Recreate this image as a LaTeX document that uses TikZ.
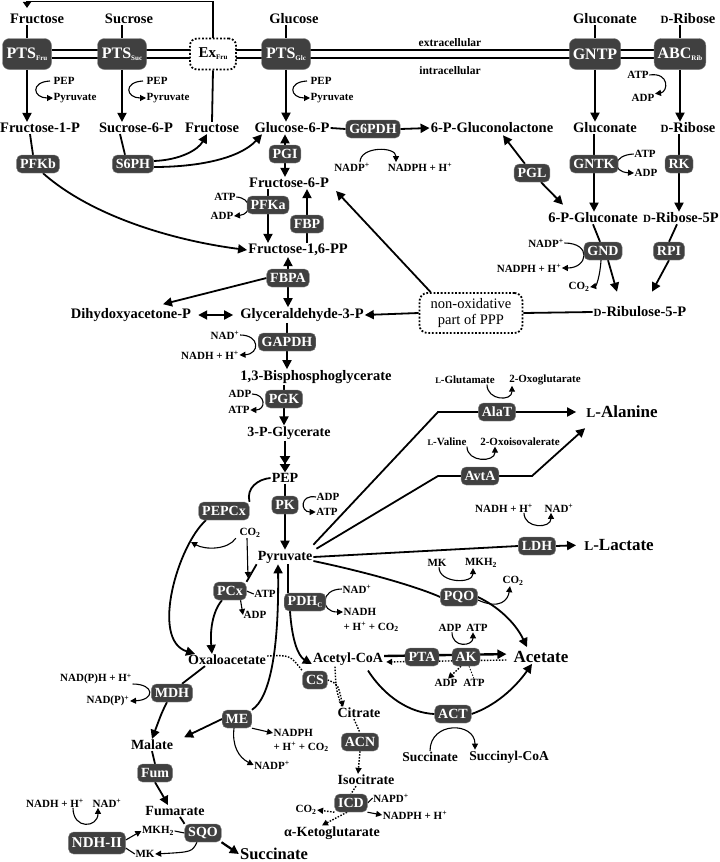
\documentclass[tikz,border=0pt]{standalone}
\usepackage{fontspec}
\setmainfont{Liberation Serif}
\usetikzlibrary{arrows.meta,backgrounds}
\definecolor{enzfill}{RGB}{64,64,64}
\newcommand{\enzsub}[1]{\raisebox{-0.3ex}{\fontsize{7}{7}\selectfont #1}}
\newcommand{\smc}[2]{{\fontsize{#1}{#1}\selectfont #2}}
\begin{document}
\begin{tikzpicture}[x=1pt,y=-1pt,
  met/.style={font=\bfseries\fontsize{14.5}{16}\selectfont,inner sep=1pt},
  metr/.style={font=\bfseries\fontsize{14}{16}\selectfont,inner sep=1pt},
  big/.style={font=\bfseries\fontsize{17}{19}\selectfont,inner sep=1pt},
  mets/.style={font=\bfseries\fontsize{13.5}{15}\selectfont,inner sep=1pt},
  cof/.style={font=\bfseries\fontsize{11}{12}\selectfont,inner sep=0.5pt},
  enz/.style={fill=enzfill,draw=gray,line width=0.4pt,rounded corners=5pt,text=white,
     font=\bfseries\fontsize{14}{14}\selectfont,minimum height=18pt,inner xsep=3.5pt,inner ysep=1pt},
  tbox/.style={enz,minimum width=49pt,minimum height=31pt,rounded corners=7pt,
     font=\bfseries\fontsize{16}{16}\selectfont},
  ln/.style={line width=1.8pt},
  arr/.style={line width=1.8pt,-{Triangle[length=9pt,width=9pt]}},
  darr/.style={line width=1.8pt,{Triangle[length=9pt,width=9pt]}-{Triangle[length=9pt,width=9pt]}},
  carr/.style={line width=1.1pt,-{Triangle[length=6pt,width=6pt]}},
  cln/.style={line width=1.1pt},
  dotln/.style={line width=1.4pt,dash pattern=on 1.5pt off 1.5pt},
  dotarr/.style={dotln,-{Triangle[length=6pt,width=6pt]}},
]
\useasboundingbox (0,0) rectangle (720,862);

% ---------- top row ----------
\node[met] (Fru) at (37,19) {Fructose};
\node[met] (Suc) at (129,19) {Sucrose};
\node[met] (Glc) at (294,19) {Glucose};
\node[met] (Gnt) at (605,19) {Gluconate};
\node[met] (Rib) at (688,19) {\smc{11}{D}-Ribose};

\node[tbox] (PTSfru) at (27,54) {PTS\enzsub{Fru}};
\node[tbox] (PTSsuc) at (122,54) {PTS\enzsub{Suc}};
\node[tbox,fill=white,text=black,draw=black,line width=1.8pt,dash pattern=on 1.8pt off 1.8pt,
      minimum width=46pt,font=\bfseries\fontsize{15}{15}\selectfont] (ExFru) at (213,54) {Ex\enzsub{Fru}};
\node[tbox] (PTSglc) at (286,54) {PTS\enzsub{Glc}};
\node[tbox] (GNTP) at (595,54) {GNTP};
\node[tbox] (ABC) at (680,54) {ABC\enzsub{Rib}};

\node[cof,font=\bfseries\fontsize{11.5}{12}\selectfont] (extra) at (450,43) {extracellular};
\node[cof,font=\bfseries\fontsize{11.5}{12}\selectfont] (intra) at (450,71) {intracellular};

\node[cof,anchor=west] (pep1) at (53,81) {PEP};
\node[cof,anchor=west] (pyr1) at (53,98) {Pyruvate};
\node[cof,anchor=west] (pep2) at (146,81) {PEP};
\node[cof,anchor=west] (pyr2) at (146,98) {Pyruvate};
\node[cof,anchor=west] (pep3) at (310,81) {PEP};
\node[cof,anchor=west] (pyr3) at (310,98) {Pyruvate};
\node[cof] (atpA) at (638,75) {ATP};
\node[cof] (adpA) at (643,98) {ADP};

% ---------- row 128 ----------
\node[met] (F1P) at (40,128) {Fructose-1-P};
\node[met] (S6P) at (136,128) {Sucrose-6-P};
\node[met] (FruI) at (212,128) {Fructose};
\node[met] (G6P) at (292,128) {Glucose-6-P};
\node[enz] (G6PDH) at (373,129) {G6PDH};
\node[met] (PGlac) at (492,128) {6-P-Gluconolactone};
\node[met] (Gnt2) at (605,128) {Gluconate};
\node[met] (Rib2) at (688,128) {\smc{11}{D}-Ribose};

\node[cof] (nadp1) at (352,167) {NADP\textsuperscript{+}};
\node[cof] (nadph1) at (420,167) {NADPH + H\textsuperscript{+}};

\node[enz] (PFKb) at (38,164) {PFKb};
\node[enz] (S6PH) at (133,164) {S6PH};
\node[enz] (PGI) at (285,154) {PGI};
\node[enz] (PGL) at (532,173) {PGL};
\node[enz] (GNTK) at (594,164) {GNTK};
\node[enz] (RK) at (679,164) {RK};
\node[cof] (atpG) at (645,154) {ATP};
\node[cof] (adpG) at (646,173) {ADP};

\node[met] (F6P) at (289,183) {Fructose-6-P};
\node[enz] (PFKa) at (268,205) {PFKa};
\node[cof] (atpP) at (225,197) {ATP};
\node[cof] (adpP) at (222,216) {ADP};
\node[enz] (FBP) at (307,224) {FBP};

\node[met] (PG6) at (593,218) {6-P-Gluconate};
\node[met] (R5P) at (681,218) {\smc{11}{D}-Ribose-5P};

\node[met] (F16P) at (298,250) {Fructose-1,6-PP};
\node[enz] (FBPA) at (288,278) {FBPA};

\node[enz] (GND) at (603,251) {GND};
\node[enz] (RPI) at (669,251) {RPI};
\node[cof] (nadpG) at (546,243) {NADP\textsuperscript{+}};
\node[cof] (nadphG) at (529,268) {NADPH + H\textsuperscript{+}};
\node[cof] (co2G) at (579,287) {CO\textsubscript{2}};

\node[draw,line width=1.8pt,dash pattern=on 1.8pt off 1.8pt,rounded corners=8pt,fill=white,
      align=center,font=\fontsize{14.5}{16}\selectfont,minimum width=103pt,minimum height=40pt,inner sep=1pt] (PPP) at (471,313) {non-oxidative\\part of PPP};
\node[met] (Ru5P) at (640,312) {\smc{11}{D}-Ribulose-5-P};

\node[met] (DHAP) at (131,315) {Dihydoxyacetone-P};
\node[met] (GAP) at (302,315) {Glyceraldehyde-3-P};
\node[enz] (GAPDH) at (287,342) {GAPDH};
\node[cof] (nad2) at (225,335) {NAD\textsuperscript{+}};
\node[cof] (nadh2) at (210,355) {NADH + H\textsuperscript{+}};
\node[met] (BPG) at (316,377) {1,3-Bisphosphoglycerate};
\node[enz] (PGK) at (284,399) {PGK};
\node[cof] (adp3) at (240,394) {ADP};
\node[cof] (atp3) at (239,410) {ATP};

\node[cof] (glu) at (465,380) {\smc{8.5}{L}-Glutamate};
\node[cof] (oxg) at (545,380) {2-Oxoglutarate};
\node[enz] (AlaT) at (497,412) {AlaT};
\node[big] (Ala) at (622,412) {\smc{13.5}{L}-Alanine};

\node[metr] (PG3) at (289,433) {3-P-Glycerate};
\node[cof] (val) at (447,442) {\smc{8.5}{L}-Valine};
\node[cof] (oiv) at (520,442) {2-Oxoisovalerate};
\node[enz] (AvtA) at (480,476) {AvtA};

\node[metr] (PEP) at (285,478) {PEP};
\node[enz] (PK) at (285,505) {PK};
\node[cof] (adp4) at (328,497) {ADP};
\node[cof] (atp4) at (327,512) {ATP};
\node[enz] (PEPCx) at (224,511) {PEPCx};
\node[cof] (nadhL) at (504,508) {NADH + H\textsuperscript{+}};
\node[cof] (nadL) at (559,508) {NAD\textsuperscript{+}};
\node[cof] (co2a) at (250,533) {CO\textsubscript{2}};
\node[enz] (LDH) at (537,546) {LDH};
\node[big] (Lac) at (619,545) {\smc{13.5}{L}-Lactate};
\node[metr] (Pyr) at (285,557) {Pyruvate};
\node[cof] (mkq) at (437,563) {MK};
\node[cof] (mkh2q) at (481,563) {MKH\textsubscript{2}};
\node[cof] (co2q) at (513,581) {CO\textsubscript{2}};

\node[enz] (PCx) at (230,591) {PCx};
\node[cof] (atp5) at (265,594) {ATP};
\node[cof] (adp5) at (255,615) {ADP};
\node[enz] (PDH) at (305,602) {PDH\enzsub{C}};
\node[cof] (nad6) at (357,589) {NAD\textsuperscript{+}};
\node[cof,anchor=west] (nadh6) at (343,612) {NADH};
\node[cof,anchor=west] (nadh6b) at (343,627) {+ H\textsuperscript{+} + CO\textsubscript{2}};
\node[enz] (PQO) at (459,597) {PQO};
\node[cof] (adpk) at (450,628) {ADP};
\node[cof] (atpk) at (477,628) {ATP};

\node[metr] (OAA) at (227,660) {Oxaloacetate};
\node[metr] (AcCoA) at (348,659) {Acetyl-CoA};
\node[enz] (PTA) at (422,657) {PTA};
\node[enz] (AK) at (466,657) {AK};
\node[big] (Acet) at (541,657) {Acetate};
\node[cof] (adpk2) at (446,683) {ADP};
\node[cof] (atpk2) at (474,683) {ATP};

\node[cof] (nadph7) at (96,679) {NAD(P)H + H\textsuperscript{+}};
\node[cof] (nadp7) at (108,701) {NAD(P)\textsuperscript{+}};
\node[enz] (CS) at (315,680) {CS};
\node[enz] (MDH) at (172,693) {MDH};
\node[metr] (Cit) at (359,713) {Citrate};
\node[enz] (ACT) at (453,714) {ACT};
\node[enz] (ME) at (237,719) {ME};
\node[cof,anchor=west] (nadphM) at (273,733) {NADPH};
\node[cof,anchor=west] (nadphMb) at (273,747) {+ H\textsuperscript{+} + CO\textsubscript{2}};
\node[metr] (Mal) at (152,745) {Malate};
\node[enz] (ACN) at (360,742) {ACN};
\node[mets] (succ2) at (430,757) {Succinate};
\node[mets] (sucCoA) at (509,757) {Succinyl-CoA};
\node[cof] (nadpM) at (272,765) {NADP\textsuperscript{+}};
\node[enz] (Fum) at (155,773) {Fum};
\node[metr] (Isoc) at (366,780) {Isocitrate};
\node[cof] (napd) at (391,798) {NAPD\textsuperscript{+}};
\node[enz] (ICD) at (351,803) {ICD};
\node[cof] (nadh9) at (55,803) {NADH + H\textsuperscript{+}};
\node[cof] (nad9) at (107,803) {NAD\textsuperscript{+}};
\node[cof] (co2i) at (306,810) {CO\textsubscript{2}};
\node[cof] (nadph10) at (415,815) {NADPH + H\textsuperscript{+}};
\node[metr] (Fumr) at (175,811) {Fumarate};
\node[metr] (AKG) at (332,833) {α-Ketoglutarate};
\node[cof] (mkh2s) at (158,831) {MKH\textsubscript{2}};
\node[enz] (SQO) at (203,833) {SQO};
\node[enz,minimum height=22pt,font=\bfseries\fontsize{15}{15}\selectfont] (NDH) at (97,843) {NDH-II};
\node[cof] (mk8) at (145,854) {MK};
\node[big,font=\bfseries\fontsize{16.5}{18}\selectfont] (Succ) at (274,854) {Succinate};

% ================= connectors =================
\begin{scope}[on background layer]
\coordinate (memA) at (0,50);
\coordinate (memB) at (0,58);
\draw[line width=1.4pt] (PTSfru.east |- memA) -- (ABC.west |- memA);
\draw[line width=1.4pt] (PTSfru.east |- memB) -- (ABC.west |- memB);

\coordinate (topy) at (0,1.5);
\draw[line width=1.8pt,-{Triangle[length=6pt,width=8pt]}] (ExFru.north) |- (PTSfru.north |- topy) -- ([yshift=5pt]PTSfru.north |- Fru.north);

\draw[ln] (PTSfru.north |- Fru.south) -- (PTSfru.north);
\draw[ln] (PTSsuc.north |- Suc.south) -- (PTSsuc.north);
\draw[ln] (PTSglc.north |- Glc.south) -- (PTSglc.north);
\draw[ln] (GNTP.north |- Gnt.south) -- (GNTP.north);
\draw[ln] (ABC.north |- Rib.south) -- (ABC.north);

\draw[arr] (PTSfru.south) -- (PTSfru.south |- F1P.north);
\draw[arr] (PTSsuc.south) -- (PTSsuc.south |- S6P.north);
\draw[arr] (PTSglc.south) -- (PTSglc.south |- G6P.north);
\draw[arr] (GNTP.south) -- (GNTP.south |- Gnt2.north);
\draw[arr] (ABC.south) -- (ABC.south |- Rib2.north);
\draw[ln] (ExFru.south) -- (FruI.north);

\draw[carr] ([xshift=-3pt]pep1.west) .. controls +(-20,1) and +(-20,0) .. (pyr1.west);
\draw[carr] ([xshift=-3pt]pep2.west) .. controls +(-20,1) and +(-20,0) .. (pyr2.west);
\draw[carr] ([xshift=-3pt]pep3.west) .. controls +(-20,1) and +(-20,0) .. (pyr3.west);
\draw[carr] (atpA.east) .. controls (670,72) and (668,92) .. (adpA.north east);

% G6PDH
\draw[ln] (G6P.east) -- (G6PDH.west);
\draw[arr] (G6PDH.east) -- (PGlac.west);
\draw[carr] ([xshift=8pt]nadp1.north) .. controls +(0,-16) and +(0,-16) .. ([xshift=-24pt]nadph1.north);
\draw[arr] (PGL) -- ([xshift=11pt,yshift=-1pt]PGlac.south);
\draw[arr] (PGL) -- ([xshift=-30pt,yshift=7pt]PG6.north);

% GNTK, RK
\draw[ln] (GNTK.north |- Gnt2.south) -- (GNTK.north);
\draw[arr] (GNTK.south) -- (GNTK.south |- PG6.north);
\draw[carr] (atpG.west) .. controls (612,155) and (612,172) .. (adpG.west);
\draw[ln] (RK.north |- Rib2.south) -- (RK.north);
\draw[arr] (RK.south) -- (RK.south |- R5P.north);

% PFKb, S6PH
\draw[ln] ([xshift=-10pt]F1P.south) -- ([xshift=-5pt]PFKb.north);
\draw[arr] ([xshift=5pt]PFKb.south) .. controls (90,215) and (170,240) .. (F16P.west);
\draw[ln] ([xshift=-16pt]S6P.south) -- ([xshift=-8pt]S6PH.north);
\draw[arr] ([yshift=3pt]S6PH.east) .. controls (180,160) and (198,150) .. ([xshift=-5pt]FruI.south);
\draw[arr] ([yshift=-3pt]S6PH.east) .. controls (200,167) and (240,158) .. ([xshift=-30pt]G6P.south);

% glycolysis upper
\draw[arr] (PGI.north) -- (PGI.north |- G6P.south);
\draw[arr] (PGI.south) -- (PGI.south |- F6P.north);
\draw[ln] (PFKa.north |- F6P.south) -- (PFKa.north);
\draw[arr] (PFKa.south) -- (PFKa.south |- F16P.north);
\draw[carr] (atpP.east) .. controls (252,198) and (252,214) .. (adpP.east);
\draw[ln] (FBP.south) -- (FBP.south |- F16P.north);
\draw[arr] (FBP.north) -- (FBP.north |- F6P.south);
\draw[arr] (FBPA.north) -- (FBPA.north |- F16P.south);
\draw[arr] (FBPA.south) -- (FBPA.south |- GAP.north);
\draw[arr] (FBPA.west) -- ([xshift=32pt,yshift=3pt]DHAP.north);
\draw[darr,shorten <=6pt,shorten >=6pt] (DHAP.east) -- (GAP.west);

% PPP
\draw[ln] (Ru5P.west) -- (PPP.east);
\draw[arr] (PPP.west) -- (GAP.east);
\draw[arr] ([xshift=12pt]PPP.north west) -- ([xshift=6pt,yshift=-8pt]F6P.east);
\draw[ln] (PG6.south) -- ([xshift=-3pt]GND.north);
\draw[arr] ([xshift=5pt]GND.south) -- ([xshift=-23pt,yshift=14pt]Ru5P.north);
\draw[carr] (nadpG.east) .. controls (592,243) and (588,268) .. (nadphG.east);
\draw[carr] ([xshift=-2pt]GND.south) .. controls (600,277) and (596,286) .. (co2G.east);
\draw[ln] ([xshift=-4pt]R5P.south) -- (RPI.north);
\draw[arr] (RPI.south) -- ([xshift=12pt,yshift=14pt]Ru5P.north);

% lower glycolysis
\draw[ln] (GAPDH.north |- GAP.south) -- (GAPDH.north);
\draw[arr] (GAPDH.south) -- (GAPDH.south |- BPG.north);
\draw[carr] (nad2.east) .. controls (260,335) and (260,354) .. (nadh2.east);
\draw[ln] (PGK.north |- BPG.south) -- (PGK.north);
\draw[arr] (PGK.south) -- (PGK.south |- PG3.north);
\draw[carr] (adp3.east) .. controls (266,394) and (266,410) .. (atp3.east);
\draw[line width=1.8pt,-{Triangle[length=8pt,width=10pt]Triangle[length=8pt,width=10pt]}] (PEP.north |- PG3.south) -- (PEP.north);
\draw[ln] (PEP.south) -- (PK.north);
\draw[arr] (PK.south) -- (PK.south |- Pyr.north);
\draw[carr] (adp4.west) .. controls (300,494) and (300,512) .. (atp4.west);

% PEPCx, PCx
\draw[ln] (PEP.west) .. controls (258,479) and (246,488) .. (PEPCx.north east);
\draw[arr] ([xshift=-18pt]PEPCx.south) .. controls (178,545) and (150,640) .. ([xshift=-32pt]OAA.north);
\coordinate (pepcxj) at (191,542);
\draw[carr] ([xshift=-3pt]co2a.south west) .. controls (228,550) and (205,550) .. (pepcxj);
\coordinate (pcxin) at (248,578);
\draw[carr] ([xshift=-3pt]co2a.south) -- (pcxin);
\draw[ln] (Pyr.south west) -- (PCx.north east);
\draw[cln] (PCx.east) -- (atp5.west);
\draw[carr] ([xshift=-6pt]PCx.south east) -- (adp5.west);
\draw[arr] ([xshift=-8pt]PCx.south) .. controls (212,612) and (210,632) .. ([xshift=-15pt]OAA.north);

% PDH
\draw[ln] ([xshift=3pt]Pyr.south) -- ([xshift=3pt]Pyr.south |- PDH.north);
\draw[arr] ([xshift=-15pt]PDH.south) .. controls (292,640) and (298,656) .. ([yshift=-5pt]AcCoA.west);
\draw[carr] (nad6.west) .. controls (320,589) and (320,612) .. (nadh6.west);

% ME, MDH, Fum, SQO
\draw[arr] (ME.north east) .. controls (270,698) and (279,650) .. ([xshift=-7pt]Pyr.south);
\draw[arr,shorten >=11pt] (ME.west) -- ([yshift=3pt]Mal.east);
\draw[carr] (ME.south east) -- (nadphM.west);
\draw[carr] ([xshift=-3pt]ME.south) .. controls (232,745) and (238,757) .. (nadpM.west);
\draw[ln] ([xshift=-22pt]OAA.south) -- ([xshift=10pt]MDH.north);
\draw[arr] ([xshift=-5pt]MDH.south) .. controls (162,712) .. (Mal.north);
\draw[carr] ([yshift=-5pt]nadph7.east) .. controls (155,684) and (155,700) .. (nadp7.east);
\draw[ln] (Mal.south) -- (Fum.north);
\draw[arr] (Fum.south) .. controls (160,790) .. ([xshift=-7pt]Fumr.north);
\draw[ln] ([xshift=5pt]Fumr.south) -- (SQO.north west);
\draw[arr,line width=2.2pt] (SQO.south east) -- (Succ.west);
\draw[cln] (mkh2s.east) -- (SQO.west);
\draw[carr] ([xshift=-6pt]SQO.south) .. controls (192,852) .. (mk8.east);
\draw[carr] ([yshift=3pt]NDH.east) -- (mkh2s.west);
\draw[cln] ([yshift=-5pt]NDH.east) -- (mk8.west);
\draw[carr] ([xshift=18pt]nadh9.south) .. controls +(0,22) and +(0,20) .. ([xshift=-9pt]nad9.south);

% TCA (dotted)
\draw[dotln] ([yshift=4pt]OAA.east) .. controls (290,655) .. (CS.north west);
\draw[dotarr] (CS.east) .. controls (338,684) .. ([xshift=-16pt]Cit.north);
\draw[dotln] ([xshift=-13pt]AcCoA.south) .. controls (336,690) .. ([xshift=-17pt]Cit.north);
\draw[dotln] ([xshift=-5pt]Cit.south) -- (ACN.north);
\draw[dotarr] (ACN.south) -- ([xshift=-8pt]Isoc.north);
\draw[dotln] ([xshift=-10pt]Isoc.south) -- (ICD.north);
\draw[cln] (ICD.east) -- (napd.west);
\draw[carr] (ICD.south east) -- (nadph10.west);
\draw[dotarr] (ICD.south west) -- (co2i.east);
\draw[dotarr] ([xshift=-4pt]ICD.south) -- ([xshift=-10pt]AKG.north);

% right branches
\coordinate (alaK) at (438,412);
\draw[arr,shorten >=9pt] ([yshift=5pt]Pyr.north east) -- (alaK) -- (Ala.west);
\coordinate (avtK1) at (438,476);
\coordinate (avtK2) at (532,476);
\draw[arr] ([xshift=3pt,yshift=1pt]Pyr.north east) -- (avtK1) -- (avtK2) -- ([yshift=-9pt]Ala.south west);
\draw[carr] ([xshift=22pt]glu.south) .. controls +(0,16) and +(0,16) .. ([xshift=-33pt]oxg.south);
\draw[carr] ([xshift=20pt]val.south) .. controls +(0,16) and +(0,16) .. ([xshift=-25pt]oiv.south);
\draw[ln] (Pyr.east) -- (LDH.west);
\draw[arr,shorten >=7pt] (LDH.east) -- (Lac.west);
\draw[carr] ([xshift=20pt]nadhL.south) .. controls +(0,16) and +(0,16) .. ([xshift=-8pt]nadL.south);

% PQO
\draw[ln] ([yshift=-4pt]Pyr.east) .. controls (380,575) and (425,590) .. (PQO.west);
\draw[arr] (PQO.east) .. controls (497,606) and (515,622) .. ([xshift=-14pt,yshift=3pt]Acet.north);
\draw[carr] ([xshift=2pt]mkq.south) .. controls +(0,16) and +(0,16) .. ([xshift=-8pt]mkh2q.south);
\draw[carr] ([yshift=-3pt]PQO.east) .. controls (500,610) and (508,600) .. ([xshift=-3pt]co2q.south);

% PTA / AK
\draw[arr,line width=2.4pt,shorten >=6pt] ([yshift=3pt]AcCoA.east) -- ([yshift=3pt]Acet.west);
\draw[dotarr,shorten >=2pt] ([yshift=-3pt,xshift=-6pt]Acet.west) -- ([yshift=-3pt]AcCoA.east);
\draw[carr] ([xshift=2pt]adpk.south) .. controls +(0,16) and +(0,14) .. ([xshift=-4pt]atpk.south);
\draw[dotarr] ([xshift=-5pt]AK.south) -- ([xshift=2pt]adpk2.north);
\draw[dotln,line width=0.8pt] (atpk2.north) .. controls (472,672) .. ([xshift=3pt]AK.south);

% ACT
\draw[ln] ([xshift=20pt,yshift=-4pt]AcCoA.south) .. controls (385,697) and (410,713) .. (ACT.west);
\draw[arr] (ACT.east) .. controls (495,706) and (515,688) .. ([xshift=-9pt]Acet.south);
\draw[carr] (succ2.north) .. controls +(0,-30) and +(0,-28) .. ([xshift=-34pt]sucCoA.north);
\end{scope}
\end{tikzpicture}
\end{document}
